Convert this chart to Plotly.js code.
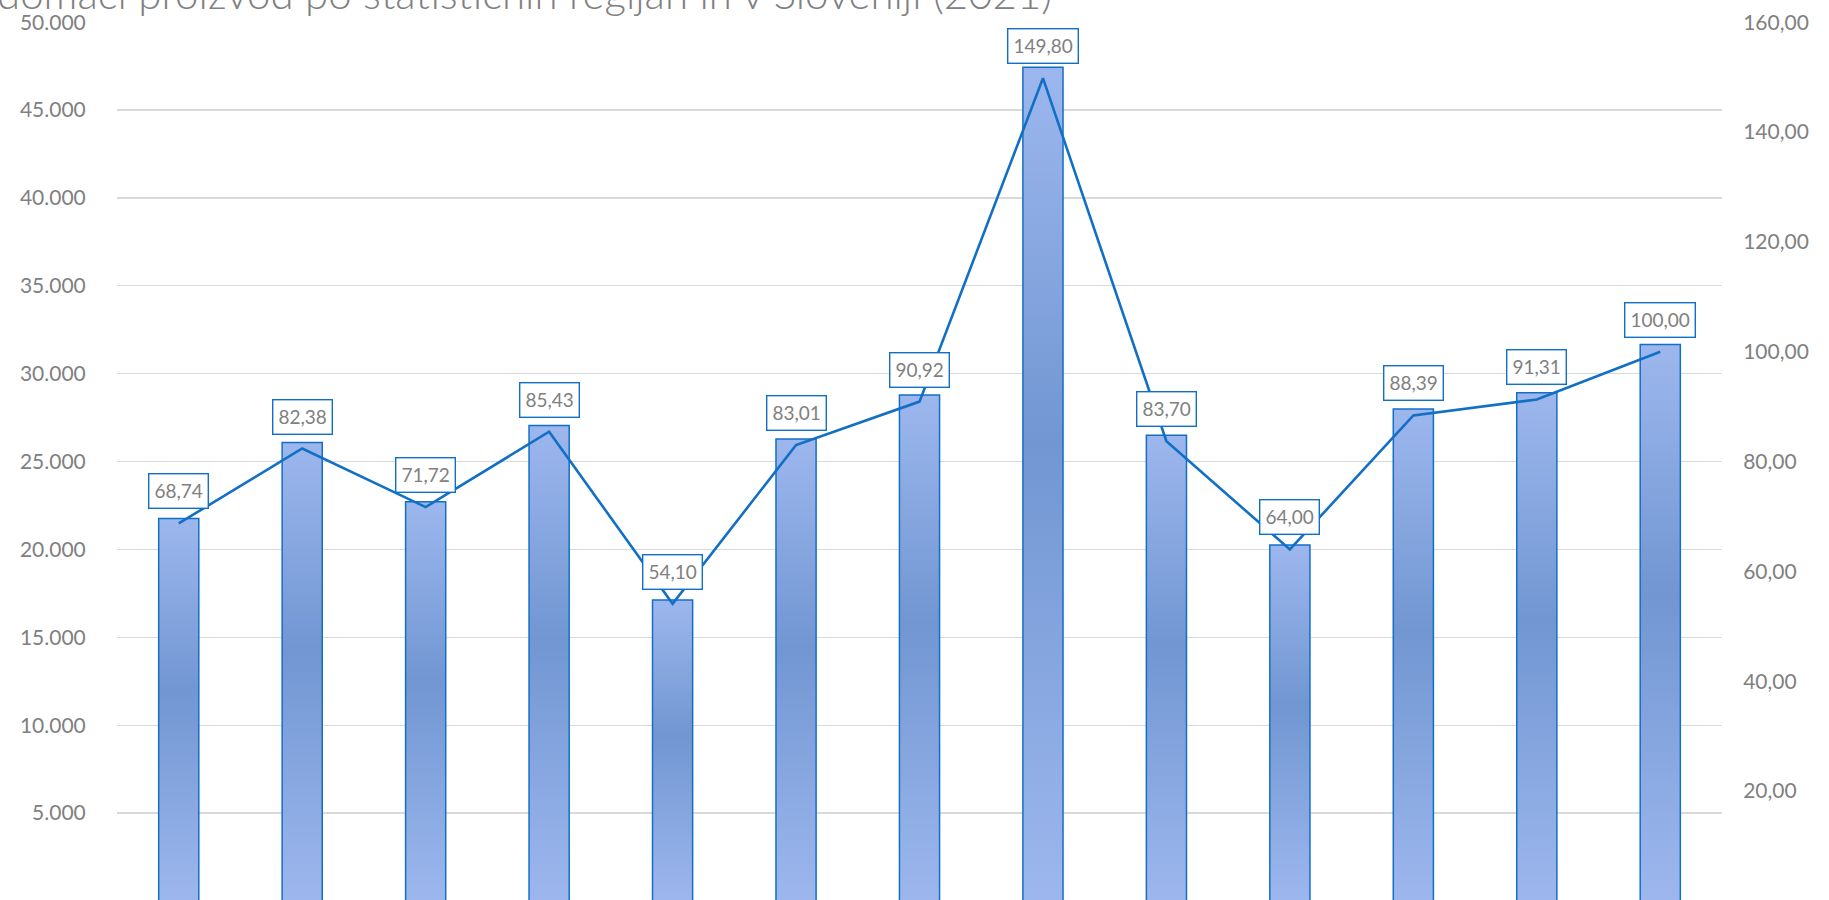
<!DOCTYPE html>
<html>
<head>
<meta charset="utf-8">
<script src="https://cdn.plot.ly/plotly-3.0.1.min.js"></script>
<style>
  html, body { margin: 0; padding: 0; background: #ffffff; }
  #chart { width: 1829px; height: 900px; }
</style>
</head>
<body>
<div id="chart"></div>
<script>
// Statistical regions of Slovenia + Slovenia total
const regions = [
  "Pomurska", "Podravska", "Koroška", "Savinjska", "Zasavska", "Posavska",
  "Jugovzhodna Slovenija", "Osrednjeslovenska", "Gorenjska",
  "Primorsko-notranjska", "Goriška", "Obalno-kraška", "Slovenija"
];
// GDP per capita (left axis)
const gdpPerCapita = [21760, 26080, 22710, 27050, 17130, 26280, 28790, 47430, 26500, 20260, 27990, 28910, 31660];
// Index, Slovenija = 100 (right axis)
const gdpIndex = [68.74, 82.38, 71.72, 85.43, 54.10, 83.01, 90.92, 149.80, 83.70, 64.00, 88.39, 91.31, 100.00];
const indexLabels = ["68,74", "82,38", "71,72", "85,43", "54,10", "83,01", "90,92", "149,80", "83,70", "64,00", "88,39", "91,31", "100,00"];

const leftTickVals = [5000, 10000, 15000, 20000, 25000, 30000, 35000, 40000, 45000, 50000];
const leftTickText = ["5.000", "10.000", "15.000", "20.000", "25.000", "30.000", "35.000", "40.000", "45.000", "50.000"];
const rightTickVals = [20, 40, 60, 80, 100, 120, 140, 160];
const rightTickText = ["20,00", "40,00", "60,00", "80,00", "100,00", "120,00", "140,00", "160,00"];

const titleText = "domači proizvod po statističnih regijah in v Sloveniji (2021)";

const FONT = "Lato, 'Noto Sans', sans-serif";
const BLUE = "#1170C6";
const GREY = "#808080";

const traces = [
  {
    type: "bar",
    x: regions,
    y: gdpPerCapita,
    yaxis: "y",
    marker: { color: "#87A5E0", line: { color: BLUE, width: 1.5 } },
    hoverinfo: "skip"
  },
  {
    type: "scatter",
    mode: "lines",
    x: regions,
    y: gdpIndex,
    yaxis: "y2",
    line: { color: BLUE, width: 2.6 },
    hoverinfo: "skip"
  }
];

const annotations = regions.map((r, i) => ({
  x: r, y: gdpIndex[i], xref: "x", yref: "y2",
  text: indexLabels[i],
  showarrow: false,
  yanchor: "bottom",
  yshift: 14,
  bgcolor: "#ffffff",
  bordercolor: BLUE,
  borderwidth: 1.4,
  borderpad: 5,
  font: { family: FONT, size: 19, color: GREY }
}));

annotations.push({
  text: titleText,
  xref: "paper", yref: "paper",
  x: -0.076, y: 1.0335,
  xanchor: "left", yanchor: "middle",
  showarrow: false,
  font: { family: FONT, size: 42, color: GREY, weight: 300 }
});

const layout = {
  width: 1829,
  height: 900,
  margin: { l: 117, r: 107, t: 22, b: 0, pad: 0 },
  paper_bgcolor: "#ffffff",
  plot_bgcolor: "#ffffff",
  showlegend: false,
  bargap: 0.675,
  font: { family: FONT, color: GREY },
  xaxis: {
    type: "category",
    showticklabels: false,
    showgrid: false,
    zeroline: false,
    showline: false,
    ticks: ""
  },
  yaxis: {
    range: [57, 50010],
    tickvals: leftTickVals,
    ticktext: leftTickText,
    showgrid: true,
    gridcolor: "#D9D9D9",
    gridwidth: 1.3,
    zeroline: false,
    showline: false,
    ticks: "outside",
    ticklen: 26,
    tickcolor: "rgba(0,0,0,0)",
    tickfont: { family: FONT, size: 21, color: GREY }
  },
  yaxis2: {
    overlaying: "y",
    side: "right",
    range: [0.18, 160.03],
    tickvals: rightTickVals,
    ticktext: rightTickText,
    showgrid: false,
    zeroline: false,
    showline: false,
    ticks: "outside",
    ticklen: 16,
    tickcolor: "rgba(0,0,0,0)",
    tickfont: { family: FONT, size: 21, color: GREY }
  },
  annotations: annotations
};

function applyGradient(gd) {
  const svg = gd.querySelector("svg.main-svg");
  if (!svg) return;
  let defs = svg.querySelector("defs");
  if (!defs) {
    defs = document.createElementNS("http://www.w3.org/2000/svg", "defs");
    svg.insertBefore(defs, svg.firstChild);
  }
  if (!svg.querySelector("#barGrad")) {
    const ns = "http://www.w3.org/2000/svg";
    const lg = document.createElementNS(ns, "linearGradient");
    lg.setAttribute("id", "barGrad");
    lg.setAttribute("x1", "0"); lg.setAttribute("y1", "0");
    lg.setAttribute("x2", "0"); lg.setAttribute("y2", "1");
    [["0", "#9DB7EE"], ["0.45", "#7196D2"], ["1", "#9DB7EE"]].forEach(([o, c]) => {
      const s = document.createElementNS(ns, "stop");
      s.setAttribute("offset", o);
      s.setAttribute("stop-color", c);
      lg.appendChild(s);
    });
    defs.appendChild(lg);
  }
  gd.querySelectorAll(".barlayer .point path").forEach(p => {
    p.style.fill = "url(#barGrad)";
    p.style.fillOpacity = "1";
  });
}

const gd = document.getElementById("chart");
Plotly.newPlot(gd, traces, layout, { displayModeBar: false, staticPlot: true }).then(() => {
  applyGradient(gd);
  gd.on("plotly_afterplot", () => applyGradient(gd));
});
</script>
</body>
</html>
